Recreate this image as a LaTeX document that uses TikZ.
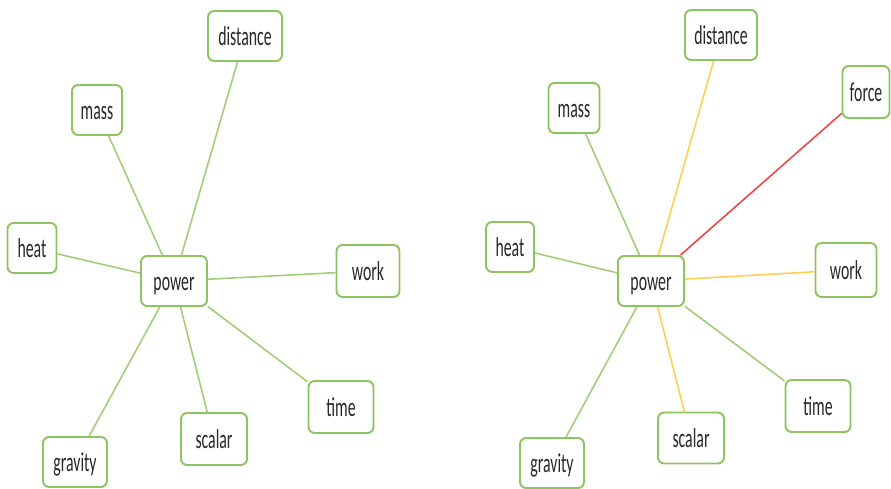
\documentclass[tikz,border=0pt]{standalone}
\usepackage{fontspec}
\setmainfont{Carlito}[FakeStretch=0.58]
\usepackage{xcolor}
\usepackage{tikz}
\usetikzlibrary{positioning}
\definecolor{boxgreen}{RGB}{140,196,96}
\definecolor{linkgreen}{RGB}{160,206,120}
\definecolor{linkyellow}{RGB}{255,208,80}
\definecolor{linkred}{RGB}{238,70,70}
\definecolor{labelgray}{RGB}{40,40,40}

\begin{document}
\begin{tikzpicture}[
  every node/.style={rectangle, draw=boxgreen, line width=1.1pt, fill=white, rounded corners=3.5pt, align=center, minimum height=1cm, inner sep=1pt, text height=11pt, text depth=0pt, text=labelgray, font=\fontsize{15.5}{17}\selectfont},
  link/.style={draw=linkgreen, line width=0.9pt},
  warm/.style={draw=linkyellow, line width=0.9pt},
  hot/.style={draw=linkred, line width=0.9pt}
]
\useasboundingbox (0,0) rectangle (17.82,9.76);

\node[minimum width=1.32cm] (lpower) at (3.48,4.14) {power};
\node[minimum width=1.48cm] (ldistance) at (4.90,9.04) {distance};
\node[minimum width=1.00cm] (lmass) at (1.94,7.56) {mass};
\node[minimum width=0.98cm] (lheat) at (0.64,4.80) {heat};
\node[minimum width=1.26cm, minimum height=1.04cm] (lwork) at (7.36,4.34) {work};
\node[minimum width=1.30cm, minimum height=1.04cm] (ltime) at (6.82,1.62) {time};
\node[minimum width=1.32cm, minimum height=1.04cm] (lscalar) at (4.28,0.98) {scalar};
\node[minimum width=1.28cm] (lgravity) at (1.50,0.52) {gravity};

\node[minimum width=1.32cm] (rpower) at (13.02,4.14) {power};
\node[minimum width=1.44cm] (rdistance) at (14.42,9.06) {distance};
\node[minimum width=0.94cm, minimum height=1.04cm] (rforce) at (17.32,7.92) {force};
\node[minimum width=1.02cm] (rmass) at (11.48,7.60) {mass};
\node[minimum width=0.96cm] (rheat) at (10.20,4.82) {heat};
\node[minimum width=1.22cm, minimum height=1.08cm] (rwork) at (16.92,4.36) {work};
\node[minimum width=1.30cm, minimum height=1.04cm] (rtime) at (16.36,1.64) {time};
\node[minimum width=1.32cm, minimum height=1.02cm] (rscalar) at (13.82,1.00) {scalar};
\node[minimum width=1.28cm] (rgravity) at (11.04,0.50) {gravity};

\foreach \n in {distance,mass,heat,work,time,scalar,gravity}
  \draw[link] (lpower) -- (l\n);

\foreach \n in {mass,heat,time,gravity}
  \draw[link] (rpower) -- (r\n);
\foreach \n in {distance,work,scalar}
  \draw[warm] (rpower) -- (r\n);
\draw[hot] (rpower) -- (rforce);
\end{tikzpicture}
\end{document}
